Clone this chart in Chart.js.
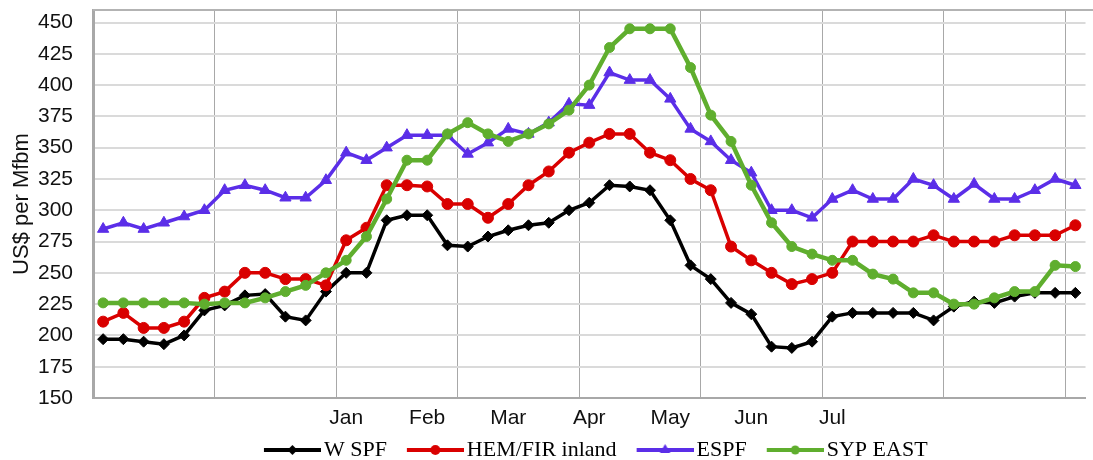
<!DOCTYPE html>
<html>
<head>
<meta charset="utf-8">
<script src="https://cdn.jsdelivr.net/npm/chart.js@4.4.1/dist/chart.umd.min.js"></script>
<style>
html,body{margin:0;padding:0;background:#fff;}
#wrap{width:1093px;height:460px;position:relative;}
</style>
</head>
<body>
<div id="wrap"><canvas id="c" width="1093" height="460"></canvas></div>
<script>
// ---- data ----
const categories = ['','','','','','','','','','','','',
  'Jan','','','','Feb','','','','Mar','','','','Apr','','','','May','','','','Jun','','','','Jul',
  '','','','','','','','','','','',''];
const seriesNames = ['W SPF', 'HEM/FIR inland', 'ESPF', 'SYP EAST'];
const wspf = [197,197,195,193,200,220,224,232,233,215,212,235,250,250,292,296,296,272,271,279,284,288,290,300,306,320,319,316,292,256,245,226,217,191,190,195,215,218,218,218,218,212,223,227,226,231,234,234,234];
const hemfir = [211,218,206,206,211,230,235,250,250,245,245,240,276,286,320,320,319,305,305,294,305,320,331,346,354,361,361,346,340,325,316,271,260,250,241,245,250,275,275,275,275,280,275,275,275,280,280,280,288];
const espf = [285,290,285,290,295,300,316,320,316,310,310,324,346,340,350,360,360,360,345,354,365,361,370,385,384,410,404,404,389,365,355,340,330,300,300,294,309,316,309,309,325,320,309,321,309,309,316,325,320];
const sypeast = [226,226,226,226,226,225,226,226,230,235,240,250,260,279,309,340,340,361,370,361,355,361,369,380,400,430,445,445,445,414,376,355,320,290,271,265,260,260,249,245,234,234,225,225,230,235,235,256,255];

// ---- styles ----
const colors = ['#000000', '#d90000', '#5b2ee8', '#5fae2e'];
const pStyles = ['rectRot', 'circle', 'triangle', 'circle'];
const pRadius = [5.5, 5.5, 6.5, 5];
const lWidths = [3.5, 3.5, 3.5, 4.5];
const seriesData = [wspf, hemfir, espf, sypeast];

function makeSwatch(color, style, r, lw) {
  const cv = document.createElement('canvas');
  cv.width = 78; cv.height = 22;
  const g = cv.getContext('2d');
  g.strokeStyle = color; g.fillStyle = color; g.lineWidth = lw;
  g.beginPath(); g.moveTo(21, 11); g.lineTo(78, 11); g.stroke();
  const cx = 49.5, cy = 11;
  g.beginPath();
  if (style === 'rectRot') {
    g.moveTo(cx, cy - r); g.lineTo(cx + r, cy); g.lineTo(cx, cy + r); g.lineTo(cx - r, cy); g.closePath();
  } else if (style === 'triangle') {
    g.moveTo(cx, cy - r); g.lineTo(cx + r * 0.87, cy + r * 0.5); g.lineTo(cx - r * 0.87, cy + r * 0.5); g.closePath();
  } else {
    g.arc(cx, cy, r, 0, Math.PI * 2);
  }
  g.fill();
  return cv;
}
const swatches = seriesNames.map((n, i) => makeSwatch(colors[i], pStyles[i], pRadius[i] - 0.5, 4));

const framePlugin = {
  id: 'frame',
  beforeDatasetsDraw(chart) {
    const {ctx, chartArea: a} = chart;
    ctx.save();
    ctx.strokeStyle = '#b3b3b3';
    ctx.lineWidth = 2;
    ctx.beginPath(); ctx.moveTo(a.left, a.top); ctx.lineTo(1093, a.top); ctx.stroke();
    ctx.restore();
  }
};

new Chart(document.getElementById('c'), {
  type: 'line',
  data: {
    labels: categories,
    datasets: seriesNames.map((n, i) => ({
      label: n,
      data: seriesData[i],
      borderColor: colors[i],
      backgroundColor: colors[i],
      borderWidth: lWidths[i],
      pointStyle: pStyles[i],
      pointRadius: pRadius[i],
      pointBackgroundColor: colors[i],
      pointBorderColor: colors[i],
      pointBorderWidth: 1,
      tension: 0,
      fill: false,
      order: 3 - i
    }))
  },
  options: {
    responsive: false,
    animation: false,
    devicePixelRatio: 1,
    layout: { padding: { top: 10, right: 6, left: 0, bottom: 0 } },
    plugins: {
      tooltip: { enabled: false },
      title: { display: false },
      legend: {
        position: 'bottom',
        fullSize: false,
        maxHeight: 28,
        labels: {
          usePointStyle: true,
          pointStyleWidth: 62,
          padding: 7,
          color: '#000',
          font: { family: 'Liberation Serif', size: 22 },
          generateLabels: () => seriesNames.map((n, i) => ({
            text: n, pointStyle: swatches[i], fillStyle: 'rgba(0,0,0,0)',
            strokeStyle: 'rgba(0,0,0,0)', lineWidth: 0, hidden: false, datasetIndex: i, fontColor: '#000'
          }))
        }
      }
    },
    scales: {
      x: {
        offset: true,
        ticks: { autoSkip: false, maxRotation: 0, minRotation: 0, padding: 8, color: '#111',
                 font: { family: 'Liberation Sans', size: 21 } },
        grid: { offset: true, drawTicks: false, lineWidth: 1,
                color: c => (c.index % 6 === 0 ? '#a8a8a8' : 'rgba(0,0,0,0)') },
        border: { color: '#a8a8a8', width: 2 },
        afterFit(s) { s.height = 34; s.paddingLeft = 0; s.paddingRight = 0; }
      },
      y: {
        min: 150, max: 460,
        ticks: { stepSize: 25, includeBounds: false, padding: 20, color: '#111',
                 font: { family: 'Liberation Sans', size: 21 } },
        grid: { color: '#dadada', lineWidth: 2, drawTicks: false },
        border: { color: '#a8a8a8', width: 3 },
        title: { display: true, text: 'US$ per Mfbm', color: '#111',
                 font: { family: 'Liberation Sans', size: 22 }, padding: { top: 9, bottom: 0 } },
        afterFit(s) { s.width = 93; s.paddingTop = 0; s.paddingBottom = 0; }
      }
    }
  },
  plugins: [framePlugin]
});
</script>
</body>
</html>
